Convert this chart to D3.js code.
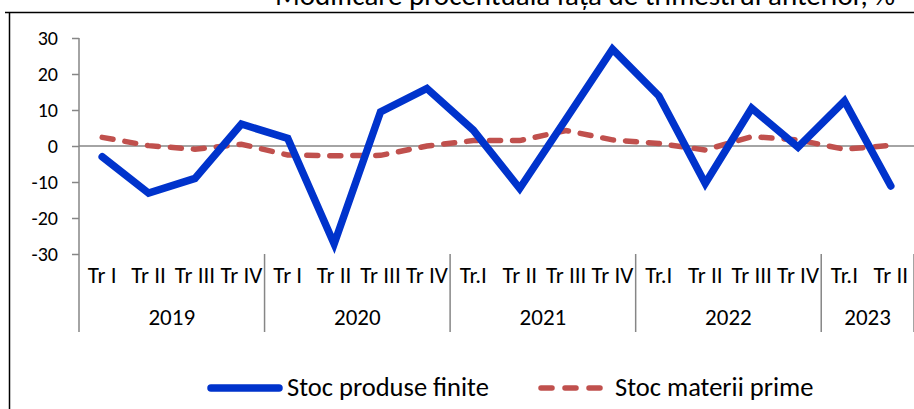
<!DOCTYPE html>
<meta charset="utf-8">
<head>
    <script src="https://d3js.org/d3.v7.min.js"></script>
    <style>
        body { margin: 0; background: #fff; }
        text { font-family: Carlito, Calibri, Lato, "Open Sans", sans-serif; fill: #000; }
    </style>
</head>
<body>
<div id="chart"></div>
<script>
    // quarter labels and year groups
    var quarters = ["Tr I", "Tr II", "Tr III", "Tr IV", "Tr I", "Tr II", "Tr III", "Tr IV",
                    "Tr.I", "Tr II", "Tr III", "Tr IV", "Tr.I", "Tr II", "Tr III", "Tr IV",
                    "Tr.I", "Tr II"];
    var years = ["2019", "2020", "2021", "2022", "2023"];
    var yearCounts = [4, 4, 4, 4, 2];

    // % change vs previous quarter
    var produseFinite = [-3.0, -13.1, -9.0, 6.1, 2.1, -27.2, 9.5, 16.0, 4.4, -11.8,
                         7.5, 26.9, 13.9, -10.4, 10.5, -0.3, 12.5, -11.1];
    var materiiPrime = [2.4, 0.1, -0.9, 0.5, -2.5, -2.7, -2.6, 0.0, 1.5, 1.5,
                        4.3, 1.7, 0.7, -1.1, 2.6, 1.7, -0.9, 0.2];

    var yTicks = [30, 20, 10, 0, -10, -20, -30];

    var W = 914, H = 409;
    var svg = d3.select("#chart").append("svg")
        .attr("width", W).attr("height", H);

    // frame around chart (partly cropped)
    svg.append("path")
        .attr("d", "M5,12.5H914M9.5,12V409")
        .attr("stroke", "#000").attr("stroke-width", 1.5).attr("fill", "none");

    // title, cut off at the top
    svg.append("text")
        .attr("x", 585).attr("y", 5)
        .attr("text-anchor", "middle")
        .style("font-size", "29px")
        .text("Modificare procentuală față de trimestrul anterior, %");

    var x = d3.scaleBand().domain(d3.range(quarters.length)).range([79, 914]);
    var y = d3.scaleLinear().domain([-30, 30]).range([254, 38]);

    var axisColor = "#868686";

    // y axis
    var yAxis = svg.append("g")
        .attr("transform", "translate(79,0)")
        .call(d3.axisLeft(y).tickValues(yTicks).tickSize(7).tickPadding(14).tickFormat(d3.format("d")));
    yAxis.select(".domain").remove();
    yAxis.selectAll("line").attr("stroke", axisColor).attr("stroke-width", 1.5);
    yAxis.selectAll("text").style("font-size", "20px").attr("fill", "#000").attr("dy", "0.34em")
        .text(function (d) { return d < 0 ? "-" + Math.abs(d) : d; });

    svg.append("line")
        .attr("x1", 79).attr("x2", 79).attr("y1", 38).attr("y2", 332)
        .attr("stroke", axisColor).attr("stroke-width", 1.5);

    // zero line
    svg.append("line")
        .attr("x1", 79).attr("x2", 914).attr("y1", y(0)).attr("y2", y(0))
        .attr("stroke", axisColor).attr("stroke-width", 1.5);

    // quarter labels
    svg.append("g").selectAll("text")
        .data(quarters).enter().append("text")
        .attr("x", function (d, i) { return x(i) + x.bandwidth() / 2; })
        .attr("y", 283)
        .attr("text-anchor", "middle")
        .style("font-size", "23px")
        .text(function (d) { return d; });

    // year groups with separators
    var start = 0;
    years.forEach(function (yr, k) {
        var x0 = x(start), x1 = x0 + yearCounts[k] * x.bandwidth();
        svg.append("text")
            .attr("x", (x0 + x1) / 2).attr("y", 325)
            .attr("text-anchor", "middle")
            .style("font-size", "23px")
            .text(yr);
        svg.append("line")
            .attr("x1", x1).attr("x2", x1).attr("y1", 254).attr("y2", 332)
            .attr("stroke", axisColor).attr("stroke-width", 1.5);
        start += yearCounts[k];
    });

    var line = d3.line()
        .x(function (d, i) { return x(i) + x.bandwidth() / 2; })
        .y(function (d) { return y(d); });

    svg.append("path")
        .datum(materiiPrime)
        .attr("d", line)
        .attr("fill", "none")
        .attr("stroke", "#C0504D")
        .attr("stroke-width", 5.5)
        .attr("stroke-linecap", "round")
        .attr("stroke-dasharray", "11,12");

    svg.append("path")
        .datum(produseFinite)
        .attr("d", line)
        .attr("fill", "none")
        .attr("stroke", "#0033CC")
        .attr("stroke-width", 7.5)
        .attr("stroke-linecap", "round")
        .attr("stroke-linejoin", "miter");

    // legend
    var leg = svg.append("g");
    leg.append("line")
        .attr("x1", 211).attr("x2", 279).attr("y1", 388).attr("y2", 388)
        .attr("stroke", "#0033CC").attr("stroke-width", 7.5).attr("stroke-linecap", "round");
    leg.append("text")
        .attr("x", 287).attr("y", 396)
        .style("font-size", "26.5px")
        .text("Stoc produse finite");
    leg.append("line")
        .attr("x1", 541).attr("x2", 600).attr("y1", 388).attr("y2", 388)
        .attr("stroke", "#C0504D").attr("stroke-width", 5.5).attr("stroke-linecap", "round")
        .attr("stroke-dasharray", "11,13");
    leg.append("text")
        .attr("x", 615).attr("y", 396)
        .style("font-size", "26.5px")
        .text("Stoc materii prime");
</script>
</body>
